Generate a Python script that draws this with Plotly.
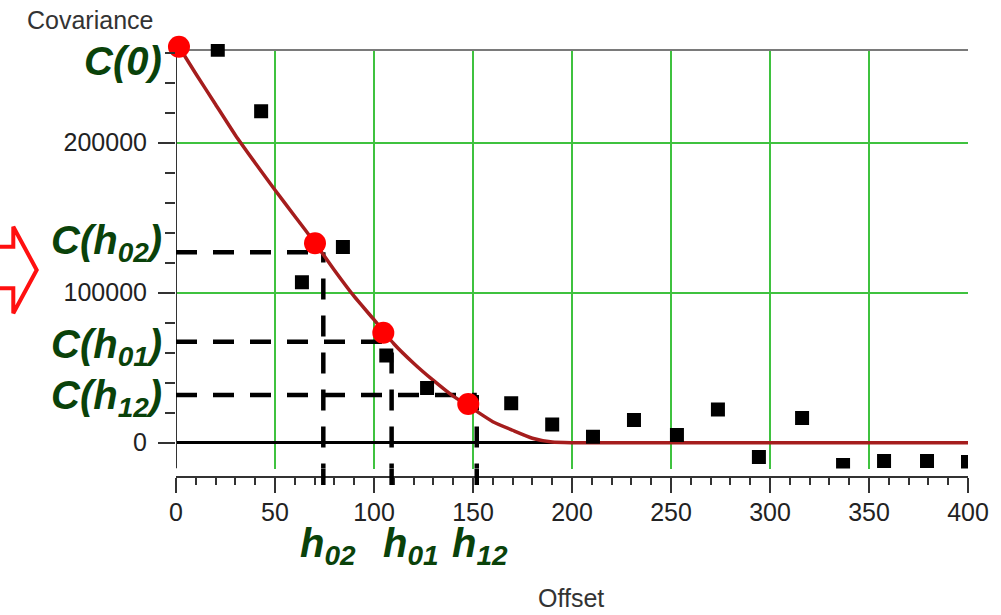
import plotly.graph_objects as go

# ---- data -------------------------------------------------------------
# experimental covariance values at each lag (offset)
lag_offset = [21.1, 43.0, 63.6, 84.3, 106.2, 126.8, 147.5, 169.3, 190.0, 210.6,
              231.3, 253.0, 273.7, 294.4, 316.2, 336.9, 357.6, 379.3, 400.0]
lag_cov = [262000, 221000, 107000, 130500, 58100, 36500, 26500, 26300, 12100, 4000,
           15100, 5100, 22100, -9500, 16500, -14900, -12200, -12200, -12900]

# fitted covariance model
model_offset = [1.5, 10, 20, 30, 40, 50, 60, 70, 80, 90, 100, 110, 120, 130, 140,
                150, 160, 170, 180, 190, 200, 400]
model_cov = [264000, 246000, 225500, 205000, 186500, 168500, 151000, 133500, 115000,
             97500, 82000, 66000, 53000, 41500, 31000, 22500, 14000, 8300, 3000,
             400, 0, 0]

# highlighted model values: C(0), C(h02), C(h01), C(h12)
key_offset = [1.5, 70.2, 104.7, 147.6]
key_cov = [264000, 133000, 73300, 25800]

# dashed guides for the three separations
guide_names = ["02", "01", "12"]
guide_offset = [74.4, 108.9, 151.9]
guide_cov = [126900, 67300, 31800]

x_ticks = [0, 50, 100, 150, 200, 250, 300, 350, 400]
y_ticks = [0, 100000, 200000]
y_frame_top = 261800          # upper edge of the framed plotting area

# ---- geometry ---------------------------------------------------------
W, H = 1001, 615
ML, MR, MT, MB = 176, 33, 44, 138
PW, PH = W - ML - MR, H - MT - MB
Y_RANGE = [-17200, 265800]
Y_DOM_BOTTOM = 8.5 / PH


def px_x(px):
    return (px - ML) / PW


def px_y(py):
    return (H - MB - py) / PH


GREEN_GRID = "#3fc23f"
AXIS = "#333333"
LABEL_GREEN = "#0a420a"
FONT = "Liberation Sans, Arial, sans-serif"

fig = go.Figure()

fig.add_trace(go.Scatter(
    x=model_offset, y=model_cov, mode="lines",
    line=dict(color="#a51d1d", width=3.5, shape="spline", smoothing=0.5),
    hoverinfo="skip", showlegend=False))

fig.add_trace(go.Scatter(
    x=lag_offset, y=lag_cov, mode="markers",
    marker=dict(symbol="square", size=14, color="black"),
    showlegend=False))

fig.add_trace(go.Scatter(
    x=key_offset, y=key_cov, mode="markers", cliponaxis=False,
    marker=dict(symbol="circle", size=22, color="#ff0000"),
    showlegend=False))

shapes = []
# white strip above the frame so the grid stops at the frame edge
shapes.append(dict(type="rect", xref="x", yref="y", x0=0, x1=400,
                   y0=y_frame_top, y1=Y_RANGE[1], fillcolor="white",
                   line=dict(width=0), layer="between"))
# frame top and covariance axis line
shapes.append(dict(type="line", xref="x", yref="y", x0=0, x1=400,
                   y0=y_frame_top, y1=y_frame_top,
                   line=dict(color="#7a7a7a", width=2), layer="between"))
shapes.append(dict(type="line", xref="x", yref="y", x0=0, x1=0,
                   y0=Y_RANGE[0], y1=y_frame_top,
                   line=dict(color=AXIS, width=2), layer="between"))

vdash = "5px,16px" + ",21px,16px" * 8
for gx, gc in zip(guide_offset, guide_cov):
    # horizontal guide from the covariance axis
    shapes.append(dict(type="line", xref="x", yref="y", x0=0, x1=gx, y0=gc, y1=gc,
                       line=dict(color="black", width=4.5, dash="21px,16px"),
                       layer="between"))
    # vertical guide down to the offset axis
    shapes.append(dict(type="line", xref="x", yref="y", x0=gx, x1=gx,
                       y0=Y_RANGE[0], y1=gc,
                       line=dict(color="black", width=4.5, dash=vdash),
                       layer="between"))
    shapes.append(dict(type="line", xref="x", yref="paper", x0=gx, x1=gx,
                       y0=px_y(485), y1=Y_DOM_BOTTOM,
                       line=dict(color="black", width=4.5), layer="above"))

# hollow red arrow at the left edge
arrow_pts = [(-20, 246.7), (13.3, 246.7), (13.3, 226.7), (36.7, 270),
             (13.3, 313.3), (13.3, 288.3), (-20, 288.3)]
path = "M " + " L ".join(f"{px_x(a):.5f},{px_y(b):.5f}" for a, b in arrow_pts) + " Z"
shapes.append(dict(type="path", xref="paper", yref="paper", path=path,
                   fillcolor="white", line=dict(color="#ff1010", width=4),
                   layer="above"))

annotations = []
label_font = dict(family=FONT, size=40, color=LABEL_GREEN)
c_labels = ["<b><i>C(0)</i></b>"] + [f"<b><i>C(h<sub>{n}</sub>)</i></b>" for n in guide_names]
c_values = [key_cov[0]] + guide_cov
c_shifts = [-14, 9, -5, -3]
for txt, val, sh in zip(c_labels, c_values, c_shifts):
    annotations.append(dict(text=txt, xref="paper", yref="y", x=px_x(164), y=val,
                            xanchor="right", yanchor="middle", yshift=sh,
                            showarrow=False, font=label_font))

h_shifts = [-25, -11, -27]
for n, gx, sh in zip(guide_names, guide_offset, h_shifts):
    annotations.append(dict(text=f"<b><i>h<sub>{n}</sub></i></b>", xref="x", yref="paper",
                            x=gx, y=px_y(519), xanchor="left", yanchor="top", xshift=sh,
                            showarrow=False, font=label_font))

annotations.append(dict(text="Covariance", xref="paper", yref="paper",
                        x=px_x(25), y=px_y(20), xanchor="left", yanchor="middle",
                        showarrow=False, font=dict(family=FONT, size=25, color="#333")))
annotations.append(dict(text="Offset", xref="paper", yref="paper",
                        x=px_x(571), y=px_y(598), xanchor="center", yanchor="middle",
                        showarrow=False, font=dict(family=FONT, size=25, color="#333")))

fig.update_layout(
    width=W, height=H,
    margin=dict(l=ML, r=MR, t=MT, b=MB, autoexpand=False),
    paper_bgcolor="white", plot_bgcolor="white",
    showlegend=False,
    shapes=shapes, annotations=annotations,
    font=dict(family=FONT, size=25, color="#222"),
    xaxis=dict(
        range=[0, 400], anchor="free", position=0,
        tickvals=x_ticks, ticks="outside", ticklen=15, tickwidth=2, tickcolor=AXIS,
        minor=dict(dtick=10, tick0=0, ticks="outside", ticklen=7, tickwidth=2,
                   tickcolor=AXIS, showgrid=False),
        showline=True, linecolor=AXIS, linewidth=2,
        showgrid=True, gridcolor=GREEN_GRID, gridwidth=2,
        zeroline=False, ticklabelstandoff=-2,
        tickfont=dict(family=FONT, size=25, color="#222"),
    ),
    yaxis=dict(
        range=Y_RANGE, domain=[Y_DOM_BOTTOM, 1],
        tickvals=y_ticks, tickformat="d",
        ticks="outside", ticklen=17, tickwidth=2, tickcolor=AXIS,
        minor=dict(dtick=20000, tick0=0, ticks="outside", ticklen=10, tickwidth=2,
                   tickcolor=AXIS, showgrid=False),
        showline=False,
        showgrid=True, gridcolor=GREEN_GRID, gridwidth=2,
        zeroline=True, zerolinecolor="black", zerolinewidth=3,
        ticklabelstandoff=6,
        tickfont=dict(family=FONT, size=25, color="#222"),
    ),
)

fig.write_html("out.html")
